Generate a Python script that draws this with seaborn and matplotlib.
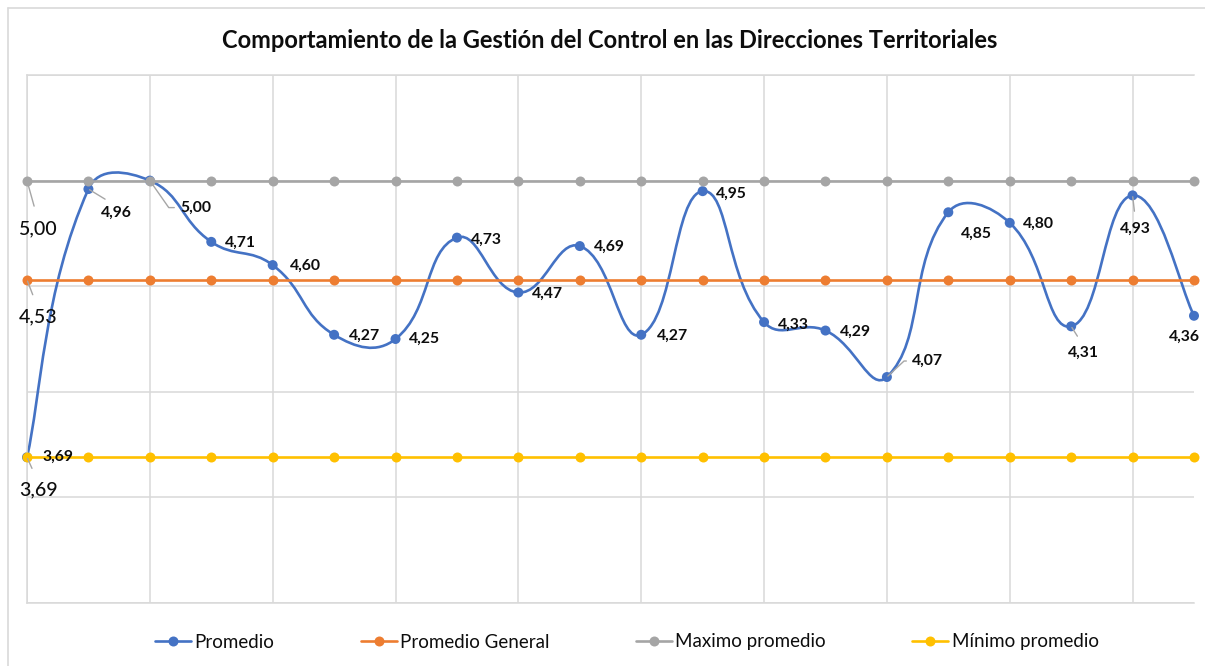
"""
Comportamiento de la Gestión del Control en las Direcciones Territoriales:
promedio por dirección frente al promedio general, máximo y mínimo.
"""

# === Imports ===

import numpy as np
import pandas as pd
import seaborn as sns
from matplotlib import pyplot as plt
from matplotlib.lines import Line2D
from matplotlib.path import Path
from matplotlib.patches import PathPatch


# === Data ===

direcciones = list(range(20))
promedio = [3.69, 4.96, 5.00, 4.71, 4.60, 4.27, 4.25, 4.73, 4.47, 4.69,
            4.27, 4.95, 4.33, 4.29, 4.07, 4.85, 4.80, 4.31, 4.93, 4.36]
promedio_general = [4.53, 4.53, 4.53, 4.53, 4.53, 4.53, 4.53, 4.53, 4.53, 4.53,
                    4.53, 4.53, 4.53, 4.53, 4.53, 4.53, 4.53, 4.53, 4.53, 4.53]
maximo_promedio = [5.00, 5.00, 5.00, 5.00, 5.00, 5.00, 5.00, 5.00, 5.00, 5.00,
                   5.00, 5.00, 5.00, 5.00, 5.00, 5.00, 5.00, 5.00, 5.00, 5.00]
minimo_promedio = [3.69, 3.69, 3.69, 3.69, 3.69, 3.69, 3.69, 3.69, 3.69, 3.69,
                   3.69, 3.69, 3.69, 3.69, 3.69, 3.69, 3.69, 3.69, 3.69, 3.69]
series = ["Promedio", "Promedio General", "Maximo promedio", "Mínimo promedio"]
titulo = "Comportamiento de la Gestión del Control en las Direcciones Territoriales"


# === Parameters ===

AZUL = "#4472C4"
NARANJA = "#ED7D31"
GRIS = "#A5A5A5"
AMARILLO = "#FFC000"
REJILLA = "#D9D9D9"
GUIA = "#A6A6A6"
TEXTO = "#0d0d0d"
MS = 7.2    # marker diameter (pt)
LW = 1.9

# label offsets in pixels (dx right, dy down) for the Promedio series
offsets = [(31, 0), (28, 24), (46, 27), (29, 1), (33, 1), (30, 1), (29, 0),
           (29, 2), (29, 1), (30, 1), (31, 1), (29, 3), (29, 3), (30, 1),
           (41, -16), (28, 22), (29, 1), (12, 26), (3, 33), (-10, 21)]


# === Functions ===

def smooth_path(ax, xs, ys, k=0.45):
    """Excel-like smoothed line: cubic Bezier segments built in display space."""
    pts = ax.transData.transform(np.column_stack([xs, ys]))
    n = len(pts)
    verts = [pts[0]]
    codes = [Path.MOVETO]
    for i in range(n - 1):
        p0 = pts[max(i - 1, 0)]
        p1 = pts[i]
        p2 = pts[i + 1]
        p3 = pts[min(i + 2, n - 1)]
        d01 = np.hypot(*(p1 - p0))
        d12 = np.hypot(*(p2 - p1))
        d23 = np.hypot(*(p3 - p2))
        w1 = d12 / (d01 + d12) if d01 > 0 else 0.5
        w2 = d12 / (d12 + d23) if d23 > 0 else 0.5
        c1 = p1 + (p2 - p0) * w1 * k
        c2 = p2 - (p3 - p1) * w2 * k
        verts += [c1, c2, p2]
        codes += [Path.CURVE4] * 3
    verts = ax.transData.inverted().transform(np.array(verts))
    return Path(verts, codes)


def make_plot():
    sns.set_style("white")
    plt.rcParams["font.family"] = ["Lato", "DejaVu Sans"]

    fig = plt.figure(figsize=(12.05, 6.66), dpi=100)
    ax = fig.add_axes([27 / 1205, 63 / 666, 1167 / 1205, 528 / 666])
    ax.set_xlim(0, 19)
    ax.set_ylim(3, 5.5)
    ax.set_xticks(range(0, 20, 2))
    ax.set_yticks(np.arange(3, 5.51, 0.5))
    ax.grid(True, color=REJILLA, lw=1.1)
    ax.tick_params(length=0, labelbottom=False, labelleft=False)
    for side, spine in ax.spines.items():
        spine.set_visible(side != "right")
        spine.set_color(REJILLA)
        spine.set_linewidth(1.1)

    # Promedio: smoothed curve + markers
    ax.add_patch(PathPatch(smooth_path(ax, direcciones, promedio), fill=False,
                           edgecolor=AZUL, lw=LW, zorder=2, clip_on=False))
    sns.scatterplot(x=direcciones, y=promedio, color=AZUL, s=MS ** 2,
                    edgecolor="none", zorder=2.5, clip_on=False, ax=ax)

    for vals, col, z in [(promedio_general, NARANJA, 3),
                         (maximo_promedio, GRIS, 4),
                         (minimo_promedio, AMARILLO, 5)]:
        sns.lineplot(x=direcciones, y=vals, color=col, lw=LW, marker="o",
                     markersize=MS, markeredgewidth=0, zorder=z,
                     clip_on=False, ax=ax)

    # data labels of Promedio
    for i, (x, y) in enumerate(zip(direcciones, promedio)):
        dx, dy = offsets[i]
        txt = f"{y:.2f}".replace(".", ",")
        arrow = None
        if i == 2:
            arrow = dict(arrowstyle="-", color=GUIA, lw=1, shrinkA=2, shrinkB=1,
                         relpos=(0, 0.5),
                         connectionstyle="angle,angleA=0,angleB=-55,rad=0")
        elif i == 14:
            arrow = dict(arrowstyle="-", color=GUIA, lw=1, shrinkA=2, shrinkB=1,
                         relpos=(0, 0.5),
                         connectionstyle="angle,angleA=0,angleB=43,rad=0")
        elif i in (1, 17, 18):
            arrow = dict(arrowstyle="-", color=GUIA, lw=1, shrinkA=5, shrinkB=1,
                         relpos=(0.5, 1))
        ax.annotate(txt, (x, y), xytext=(dx, -dy), textcoords="offset pixels",
                    ha="center", va="center", fontsize=11.3, fontweight="bold",
                    color=TEXTO, arrowprops=arrow, zorder=6,
                    annotation_clip=False)

    # first-point labels of the reference series
    for vals, dy in [(maximo_promedio, 48), (promedio_general, 37),
                     (minimo_promedio, 33)]:
        ax.annotate(f"{vals[0]:.2f}".replace(".", ","), (direcciones[0], vals[0]),
                    xytext=(11, -dy), textcoords="offset pixels",
                    ha="center", va="center", fontsize=14, color=TEXTO,
                    fontweight="medium",
                    arrowprops=dict(arrowstyle="-", color=GUIA, lw=1,
                                    shrinkA=8, shrinkB=1, relpos=(0.5, 1)),
                    zorder=6, annotation_clip=False)

    fig.text(0.506, 1 - 41 / 666, titulo, ha="center", va="center",
             fontsize=17, fontweight="bold", color=TEXTO)

    handles = [Line2D([], [], color=c, lw=LW, marker="o", markersize=MS,
                      markeredgewidth=0)
               for c in [AZUL, NARANJA, GRIS, AMARILLO]]
    leg = fig.legend(handles, series, loc="center", ncol=4, frameon=False,
                     bbox_to_anchor=(627 / 1205, 1 - 642 / 666), fontsize=13.5,
                     handlelength=1.9, handletextpad=0.2, columnspacing=4.6)
    for t in leg.get_texts():
        t.set_color(TEXTO)

    # chart frame
    fig.add_artist(Line2D([8 / 1205, 1], [1 - 8 / 666] * 2, color=REJILLA, lw=1.2))
    fig.add_artist(Line2D([8 / 1205] * 2, [0, 1 - 8 / 666], color=REJILLA, lw=1.2))

    fig.savefig("out.png", dpi=100, facecolor="white")


# === Main ===

def main():
    make_plot()

main()
